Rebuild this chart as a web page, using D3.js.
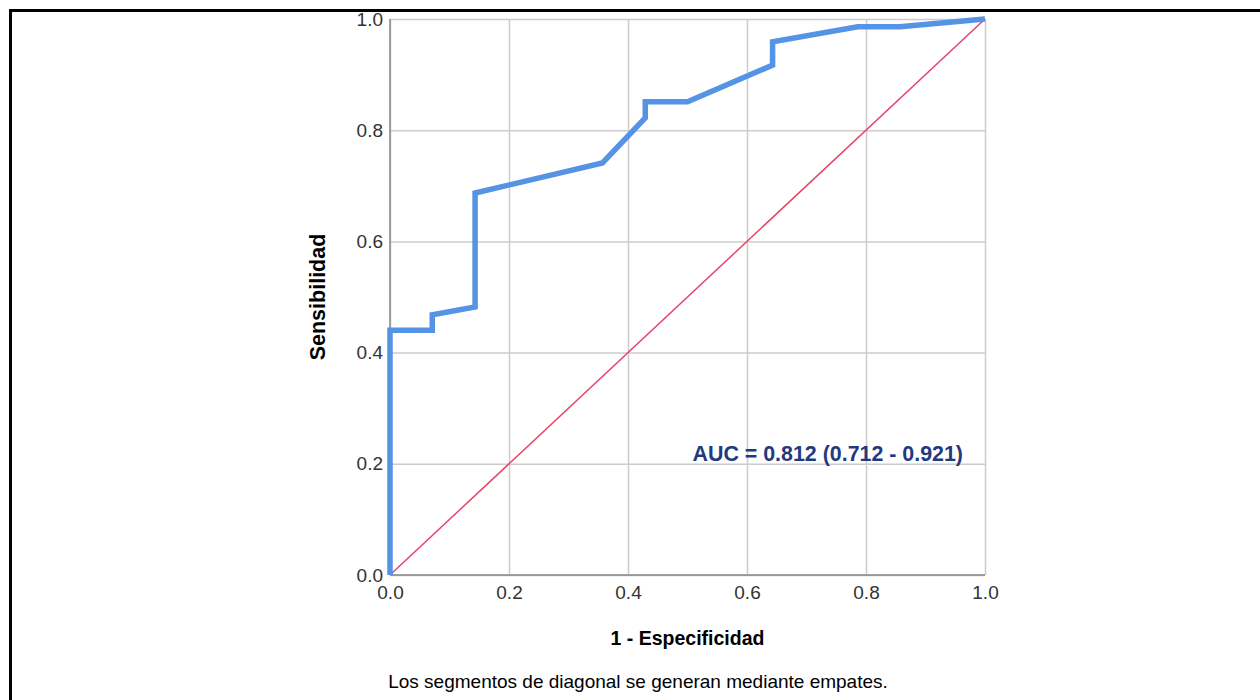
<!DOCTYPE html>
<html>
<head>
<meta charset="utf-8">
<script src="https://cdn.jsdelivr.net/npm/d3@7"></script>
<style>
  body { margin: 0; background: #fff; }
  text { font-family: "Liberation Sans", Arial, sans-serif; }
</style>
</head>
<body>
<script>
// ROC curve points (1 - especificidad, sensibilidad)
var fpr = [0, 0, 0.071, 0.071, 0.143, 0.143, 0.357, 0.429, 0.429, 0.5, 0.643, 0.643, 0.786, 0.857, 1];
var tpr = [0, 0.44, 0.44, 0.468, 0.482, 0.687, 0.741, 0.822, 0.851, 0.851, 0.917, 0.959, 0.986, 0.986, 1];
// reference line
var refX = [0, 1];
var refY = [0, 1];
var tickValues = [0, 0.2, 0.4, 0.6, 0.8, 1.0];
var aucLabel = "AUC = 0.812 (0.712 - 0.921)";
var xTitle = "1 - Especificidad";
var yTitle = "Sensibilidad";
var footnote = "Los segmentos de diagonal se generan mediante empates.";

var svg = d3.select("body").append("svg")
    .attr("width", 1260)
    .attr("height", 700);

// frame lines (top and left only)
svg.append("path")
    .attr("d", "M10.5,700 L10.5,10.5 L1260,10.5")
    .style("fill", "none")
    .style("stroke", "#000")
    .style("stroke-width", "3px");

var pLeft = 390, pRight = 985, pTop = 19, pBottom = 575;

var x = d3.scaleLinear().domain([0, 1]).range([pLeft, pRight]);
var y = d3.scaleLinear().domain([0, 1]).range([pBottom, pTop]);

// gridlines
svg.append("g")
    .attr("transform", "translate(0," + pBottom + ")")
    .call(d3.axisBottom(x).tickValues(tickValues).tickSize(-(pBottom - pTop)).tickFormat(""))
    .call(function(g) {
        g.select(".domain").remove();
        g.selectAll("line").style("stroke", "#cccccc").style("stroke-width", "1.5px");
    });
svg.append("g")
    .attr("transform", "translate(" + pLeft + ",0)")
    .call(d3.axisLeft(y).tickValues(tickValues).tickSize(-(pRight - pLeft)).tickFormat(""))
    .call(function(g) {
        g.select(".domain").remove();
        g.selectAll("line").style("stroke", "#cccccc").style("stroke-width", "1.5px");
    });

// axis lines
svg.append("line")
    .attr("x1", x(0)).attr("x2", x(1))
    .attr("y1", y(0)).attr("y2", y(0))
    .style("stroke", "#888").style("stroke-width", "1.5px");
svg.append("line")
    .attr("x1", x(0)).attr("x2", x(0))
    .attr("y1", y(0)).attr("y2", y(1))
    .style("stroke", "#888").style("stroke-width", "1.5px");

// tick labels
var xAxis = svg.append("g")
    .attr("transform", "translate(0," + pBottom + ")")
    .call(d3.axisBottom(x).tickValues(tickValues).tickSize(0).tickPadding(11).tickFormat(d3.format(".1f")));
xAxis.select(".domain").remove();
xAxis.selectAll("text")
    .style("font-size", "19px")
    .style("fill", "#333")
    .style("font-family", "Liberation Sans, Arial, sans-serif");

var yAxis = svg.append("g")
    .attr("transform", "translate(" + pLeft + ",0)")
    .call(d3.axisLeft(y).tickValues(tickValues).tickSize(0).tickPadding(7).tickFormat(d3.format(".1f")));
yAxis.select(".domain").remove();
yAxis.selectAll("text")
    .style("font-size", "19px")
    .style("fill", "#333")
    .style("font-family", "Liberation Sans, Arial, sans-serif");

// diagonal reference line
var refData = refX.map(function(d, i) { return [d, refY[i]]; });
svg.append("path")
    .datum(refData)
    .attr("d", d3.line().x(function(d) { return x(d[0]); }).y(function(d) { return y(d[1]); }))
    .style("fill", "none")
    .style("stroke", "#e5456a")
    .style("stroke-width", "1.5px");

// ROC curve
var rocData = fpr.map(function(d, i) { return [d, tpr[i]]; });
svg.append("path")
    .datum(rocData)
    .attr("d", d3.line().x(function(d) { return x(d[0]); }).y(function(d) { return y(d[1]); }))
    .style("fill", "none")
    .style("stroke", "#5593e4")
    .style("stroke-width", "5.5px")
    .style("stroke-linejoin", "miter");

// AUC annotation
svg.append("text")
    .attr("x", 963)
    .attr("y", 461)
    .attr("text-anchor", "end")
    .style("font-size", "21.4px")
    .style("font-weight", "bold")
    .style("fill", "#1f3a7e")
    .text(aucLabel);

// axis titles
svg.append("text")
    .attr("x", (pLeft + pRight) / 2)
    .attr("y", 645)
    .attr("text-anchor", "middle")
    .style("font-size", "19.5px")
    .style("font-weight", "bold")
    .style("fill", "#000")
    .text(xTitle);

svg.append("text")
    .attr("transform", "translate(325," + (pTop + pBottom) / 2 + ") rotate(-90)")
    .attr("text-anchor", "middle")
    .style("font-size", "21.5px")
    .style("font-weight", "bold")
    .style("fill", "#000")
    .text(yTitle);

// footnote
svg.append("text")
    .attr("x", 638)
    .attr("y", 688)
    .attr("text-anchor", "middle")
    .style("font-size", "19px")
    .style("fill", "#000")
    .text(footnote);
</script>
</body>
</html>
